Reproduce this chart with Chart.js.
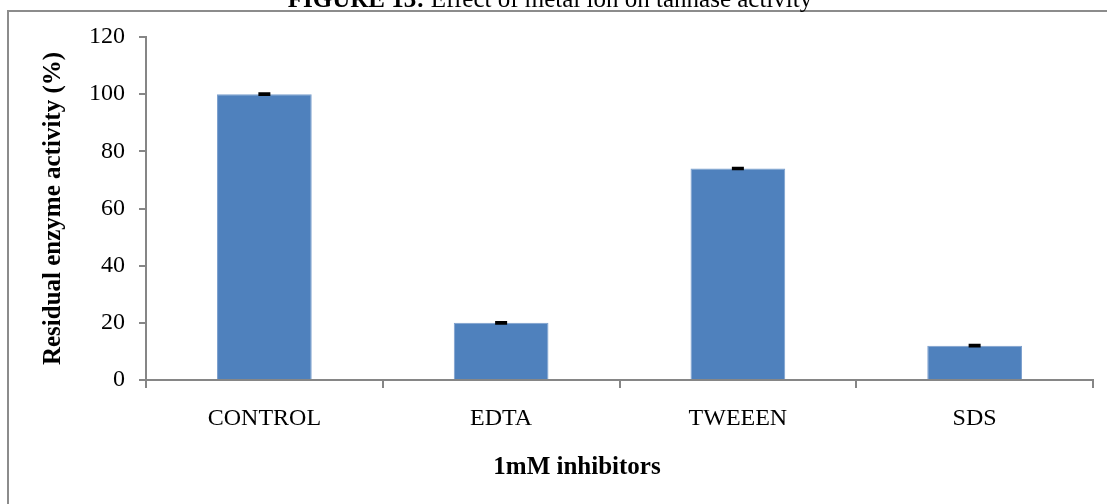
<!DOCTYPE html>
<html>
<head>
<meta charset="utf-8">
<script src="https://cdn.jsdelivr.net/npm/chart.js@4"></script>
<style>
  html, body { margin: 0; padding: 0; background: #fff; overflow: hidden; }
  #wrap { position: relative; width: 1107px; height: 504px; }
</style>
</head>
<body>
<div id="wrap"><canvas id="chart" width="1107" height="504"></canvas></div>
<script>
// --- DATA ---
const categories = ['CONTROL', 'EDTA', 'TWEEEN', 'SDS'];
const activity = [100, 20, 74, 12];
const errors = [0.3, 0.3, 0.3, 0.3];
const yTicks = [0, 20, 40, 60, 80, 100, 120];

const axisGray = '#868686';
const serif = '"Liberation Serif", "Times New Roman", serif';

// --- PLUGINS ---
// error bars drawn from the data through the y scale
const errorBars = {
    id: 'errorBars',
    afterDatasetsDraw(chart) {
        const ctx = chart.ctx;
        const y = chart.scales.y;
        const meta = chart.getDatasetMeta(0);
        ctx.save();
        ctx.strokeStyle = '#000';
        ctx.lineWidth = 2;
        meta.data.forEach((bar, i) => {
            const top = y.getPixelForValue(activity[i] + errors[i]);
            const bot = y.getPixelForValue(activity[i] - errors[i]);
            ctx.beginPath();
            ctx.moveTo(bar.x, top); ctx.lineTo(bar.x, bot);
            ctx.moveTo(bar.x - 6, top); ctx.lineTo(bar.x + 6, top);
            ctx.moveTo(bar.x - 6, bot); ctx.lineTo(bar.x + 6, bot);
            ctx.stroke();
        });
        ctx.restore();
    }
};

// frame, the (cropped) figure caption and the x axis title
const frame = {
    id: 'frame',
    afterDraw(chart) {
        const ctx = chart.ctx;
        ctx.save();
        ctx.strokeStyle = '#8c8c8c';
        ctx.lineWidth = 2;
        ctx.beginPath();
        ctx.moveTo(8, 600); ctx.lineTo(8, 11); ctx.lineTo(1200, 11);
        ctx.stroke();

        ctx.fillStyle = '#000';
        ctx.textBaseline = 'alphabetic';
        ctx.textAlign = 'left';
        const bold = 'bold 25px ' + serif, normal = '25px ' + serif;
        const part1 = 'FIGURE 13:', part2 = ' Effect of metal ion on tannase activity';
        ctx.font = bold;
        const w1 = ctx.measureText(part1).width;
        ctx.font = normal;
        const w2 = ctx.measureText(part2).width;
        const x0 = 550 - (w1 + w2) / 2;
        ctx.font = bold;
        ctx.fillText(part1, x0, 7);
        ctx.font = normal;
        ctx.fillText(part2, x0 + w1, 7);

        // x axis title, centred on the (wider) chart frame
        ctx.textAlign = 'center';
        ctx.textBaseline = 'middle';
        ctx.font = 'bold 25px ' + serif;
        ctx.fillText('1mM inhibitors', 577, 468);
        ctx.restore();
    }
};

// --- CHART ---
new Chart(document.getElementById('chart'), {
    type: 'bar',
    data: {
        labels: categories,
        datasets: [{
            data: activity,
            backgroundColor: '#4f81bd',
            borderColor: '#7b9fcd',
            borderWidth: 1,
            barPercentage: 0.4,
            categoryPercentage: 1.0
        }]
    },
    options: {
        responsive: false,
        animation: false,
        layout: { padding: { left: 0, top: 37, right: 14, bottom: 0 } },
        plugins: {
            legend: { display: false },
            tooltip: { enabled: false },
            title: { display: false }
        },
        scales: {
            x: {
                grid: { display: true, drawOnChartArea: false, drawTicks: true, tickLength: 8, color: axisGray, lineWidth: 2 },
                border: { color: axisGray, width: 2 },
                ticks: { color: '#000', font: { family: serif, size: 24 }, padding: 16, maxRotation: 0 },
                afterFit(scale) { scale.height = 124; }
            },
            y: {
                min: 0,
                max: 120,
                grid: { display: true, drawOnChartArea: false, drawTicks: true, tickLength: 7, color: axisGray, lineWidth: 2 },
                border: { color: axisGray, width: 2 },
                ticks: {
                    color: '#000', font: { family: serif, size: 24 }, padding: 14,
                    stepSize: 20,
                    callback: (v) => yTicks.includes(v) ? String(v) : ''
                },
                title: { display: true, text: 'Residual enzyme activity (%)', color: '#000',
                         font: { family: serif, size: 25, weight: 'bold' }, padding: { top: 39, bottom: 0 } },
                afterFit(scale) { scale.width = 146; }
            }
        }
    },
    plugins: [errorBars, frame]
});
</script>
</body>
</html>
